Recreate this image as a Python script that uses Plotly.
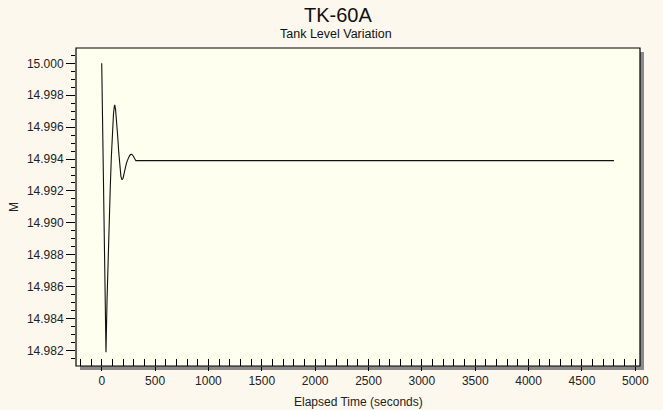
import plotly.graph_objects as go

# Tank level response of TK-60A after the disturbance (seconds, metres)
time_s = [0, 10, 20, 30, 40, 50, 60, 70, 80, 90, 100, 110, 118, 122,
          130, 140, 150, 160, 170, 180, 190, 200, 210, 220, 230, 240,
          250, 260, 270, 280, 290, 300, 310, 320, 4800]
level_m = [15.0000, 14.9955, 14.9910, 14.9865, 14.9819, 14.9852, 14.9882,
           14.9905, 14.9922, 14.9941, 14.9957, 14.9968, 14.9973, 14.9974,
           14.9971, 14.9964, 14.9954, 14.9944, 14.9935, 14.9929, 14.9927,
           14.9928, 14.9931, 14.9935, 14.9937, 14.9939, 14.9941, 14.9942,
           14.99428, 14.9943, 14.99425, 14.9941, 14.99395, 14.9939, 14.9939]

x_range = [-241, 5044]
y_range = [14.98103, 15.00096]

W, H = 663, 410
L, R, T, B = 76, 23, 48, 44
pw, ph = W - L - R, H - T - B

paper_bg = "#fcf8ee"
plot_bg = "#fffff0"
font_main = "Liberation Sans, Arial, sans-serif"

fig = go.Figure()
fig.add_trace(go.Scatter(x=time_s, y=level_m, mode="lines",
                         line=dict(color="#111111", width=1.1),
                         showlegend=False, hoverinfo="x+y"))
# carrier trace for the overlay axis that draws the inner tick marks
fig.add_trace(go.Scatter(x=[time_s[0]], y=[level_m[0]], xaxis="x2",
                         mode="markers", marker=dict(opacity=0),
                         showlegend=False, hoverinfo="skip"))

tick_font = dict(family=font_main, size=12, color="#222222")

fig.update_layout(
    width=W, height=H,
    margin=dict(l=L, r=R, t=T, b=B),
    paper_bgcolor=paper_bg,
    plot_bgcolor="rgba(0,0,0,0)",
    xaxis=dict(range=x_range, tickmode="linear", tick0=0, dtick=500,
               ticks="outside", ticklen=4, tickcolor="#000", tickwidth=1,
               showgrid=False, zeroline=False, showline=False,
               tickfont=tick_font),
    xaxis2=dict(range=x_range, overlaying="x", side="bottom", anchor="y",
                tickmode="linear", tick0=0, dtick=100, ticks="inside",
                ticklen=7, tickcolor="#000", tickwidth=1,
                showticklabels=False, showgrid=False, zeroline=False,
                showline=False),
    yaxis=dict(range=y_range, tickmode="linear", tick0=14.982, dtick=0.002,
               tickformat=".3f", ticks="outside", ticklen=9,
               tickcolor="#000", tickwidth=1,
               minor=dict(dtick=0.0005, tick0=14.982, ticks="outside",
                          ticklen=4, tickcolor="#000", tickwidth=1),
               showgrid=False, zeroline=False, showline=False,
               tickfont=tick_font),
)

sx, sy = 4 / pw, 4 / ph
fig.update_layout(shapes=[
    # drop shadow of the plot frame
    dict(type="rect", xref="paper", yref="paper", layer="below",
         x0=sx, x1=1 + sx, y0=-sy, y1=1 - sy,
         fillcolor="#8a8a8a", line=dict(width=0)),
    # plot area with its frame
    dict(type="rect", xref="paper", yref="paper", layer="below",
         x0=0, x1=1, y0=0, y1=1,
         fillcolor=plot_bg, line=dict(color="#000000", width=1.2)),
])

fig.update_layout(annotations=[
    dict(text="TK-60A", xref="paper", yref="paper",
         x=(338 - L) / pw, y=1 + (T - 15) / ph, xanchor="center",
         yanchor="middle", showarrow=False,
         font=dict(family=font_main, size=20, color="#111111")),
    dict(text="Tank Level Variation", xref="paper", yref="paper",
         x=(336 - L) / pw, y=1 + (T - 34) / ph, xanchor="center",
         yanchor="middle", showarrow=False,
         font=dict(family=font_main, size=12.5, color="#111111")),
    dict(text="M", xref="paper", yref="paper",
         x=(14 - L) / pw, y=0.5, xanchor="center", yanchor="middle",
         textangle=-90, showarrow=False,
         font=dict(family=font_main, size=12, color="#222222")),
    dict(text="Elapsed Time (seconds)", xref="paper", yref="paper",
         x=0.5, y=-(402 - (T + ph)) / ph, xanchor="center",
         yanchor="middle", showarrow=False,
         font=dict(family=font_main, size=12, color="#222222")),
])

fig.write_html("out.html")
